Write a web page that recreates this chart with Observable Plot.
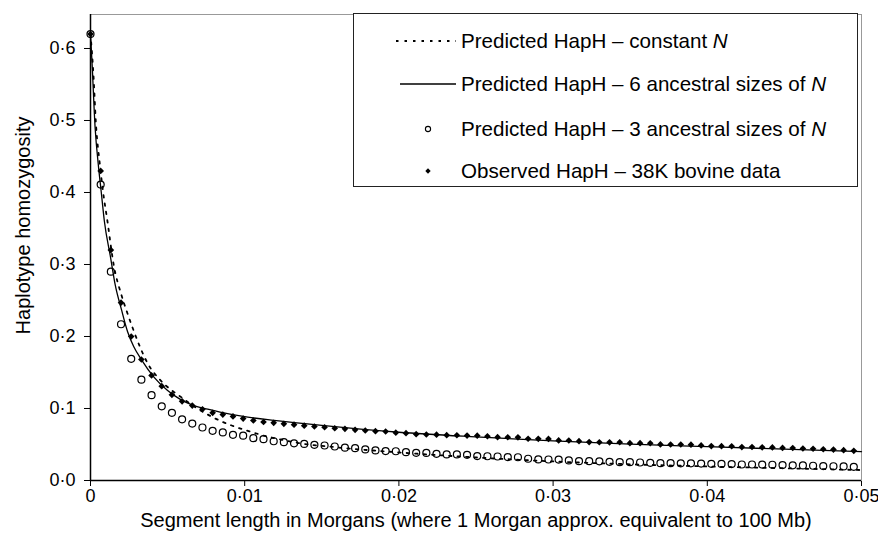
<!DOCTYPE html>
<html>
<head>
<meta charset="utf-8">
<script src="https://cdn.jsdelivr.net/npm/d3@7"></script>
<script src="https://cdn.jsdelivr.net/npm/@observablehq/plot@0.6"></script>
<style>
html, body { margin: 0; padding: 0; background: #fff; }
#wrap { position: relative; width: 878px; height: 546px; font-family: "Liberation Sans", Arial, sans-serif; color: #000; }
#legend { position: absolute; left: 353px; top: 13px; width: 505px; height: 174px; border: 1.3px solid #222; background: #fff; box-sizing: border-box; }
.row { position: absolute; left: 0; height: 26px; width: 100%; }
.row svg { position: absolute; left: 41px; top: 0; }
.row span { position: absolute; left: 107px; top: 0; line-height: 26px; font-size: 20.6px; white-space: nowrap; }
</style>
</head>
<body>
<div id="wrap"><div id="legend"></div></div>
<script>
// Segment length (Morgans) for the sampled points
const segX = [0, 0.00066, 0.00132, 0.00198, 0.00264, 0.0033, 0.00396, 0.00462, 0.00528, 0.00594,
  0.0066, 0.00726, 0.00792, 0.00858, 0.00924, 0.0099, 0.01056, 0.01122, 0.01188, 0.01254,
  0.0132, 0.01386, 0.01452, 0.01518, 0.01584, 0.0165, 0.01716, 0.01782, 0.01848, 0.01914,
  0.0198, 0.02046, 0.02112, 0.02178, 0.02244, 0.0231, 0.02376, 0.02442, 0.02508, 0.02574,
  0.0264, 0.02706, 0.02772, 0.02838, 0.02904, 0.0297, 0.03036, 0.03102, 0.03168, 0.03234,
  0.033, 0.03366, 0.03432, 0.03498, 0.03564, 0.0363, 0.03696, 0.03762, 0.03828, 0.03894,
  0.0396, 0.04026, 0.04092, 0.04158, 0.04224, 0.0429, 0.04356, 0.04422, 0.04488, 0.04554,
  0.0462, 0.04686, 0.04752, 0.04818, 0.04884, 0.0495];

// Observed HapH – 38K bovine data
const observedH = [0.62, 0.43, 0.32, 0.247, 0.200, 0.168, 0.146, 0.131, 0.119, 0.110,
  0.104, 0.099, 0.094, 0.0915, 0.089, 0.086, 0.0833, 0.0813, 0.0801, 0.0787,
  0.0776, 0.0762, 0.075, 0.074, 0.0726, 0.0718, 0.0704, 0.0694, 0.0685, 0.068,
  0.0664, 0.0657, 0.0644, 0.0639, 0.0637, 0.063, 0.0628, 0.0624, 0.0623, 0.0614,
  0.0602, 0.0601, 0.0600, 0.0580, 0.0579, 0.0577, 0.0557, 0.0555, 0.0546, 0.0534,
  0.0531, 0.0530, 0.0531, 0.0519, 0.0518, 0.0517, 0.0501, 0.0500, 0.0500, 0.0498,
  0.0487, 0.0478, 0.0477, 0.0476, 0.0464, 0.0465, 0.0461, 0.0459, 0.0453, 0.0451,
  0.0445, 0.0441, 0.0434, 0.0429, 0.0421, 0.0412];

// Predicted HapH – 3 ancestral sizes of N
const pred3H = [0.62, 0.411, 0.290, 0.217, 0.169, 0.140, 0.1185, 0.103, 0.094, 0.085,
  0.079, 0.0736, 0.069, 0.0667, 0.0634, 0.0622, 0.0588, 0.0574, 0.0545, 0.0532,
  0.0516, 0.0508, 0.0495, 0.0486, 0.0472, 0.0456, 0.0449, 0.0432, 0.0418, 0.0408,
  0.0406, 0.0393, 0.0385, 0.0383, 0.0371, 0.0362, 0.0362, 0.0356, 0.0339, 0.0337,
  0.0333, 0.0325, 0.0323, 0.0302, 0.0293, 0.0292, 0.0291, 0.0279, 0.0269, 0.0268,
  0.0266, 0.026, 0.0254, 0.0254, 0.025, 0.0246, 0.024, 0.0241, 0.0239, 0.0238,
  0.0235, 0.0231, 0.023, 0.0228, 0.0222, 0.0222, 0.0221, 0.0219, 0.0214, 0.0211,
  0.021, 0.0205, 0.0201, 0.0198, 0.0195, 0.019];

// Predicted HapH – constant N (curve)
const constX = [0, 0.0002, 0.00034, 0.0006, 0.00082, 0.0011, 0.0015, 0.002, 0.0024, 0.0028,
  0.0032, 0.0037, 0.0045, 0.0054, 0.006, 0.0067, 0.0074, 0.0084, 0.0092, 0.0099,
  0.0105, 0.0111, 0.0119, 0.0135, 0.016, 0.02, 0.025, 0.03, 0.035, 0.04, 0.045, 0.05];
const constH = [0.62, 0.56, 0.50, 0.44, 0.40, 0.36, 0.30, 0.258, 0.232, 0.208,
  0.186, 0.163, 0.140, 0.123, 0.114, 0.103, 0.094, 0.083, 0.076, 0.071,
  0.067, 0.063, 0.059, 0.052, 0.046, 0.039, 0.032, 0.0265, 0.0225, 0.0195, 0.017, 0.0145];

// Predicted HapH – 6 ancestral sizes of N (curve)
const sixX = [0, 0.0001, 0.0003, 0.0005, 0.0007, 0.0009, 0.0013, 0.0016, 0.002, 0.0024,
  0.0028, 0.0033, 0.0041, 0.005, 0.0058, 0.0067, 0.0076, 0.0084, 0.0102, 0.0119,
  0.015, 0.02, 0.025, 0.03, 0.035, 0.04, 0.045, 0.05];
const sixH = [0.62, 0.58, 0.49, 0.44, 0.40, 0.36, 0.31, 0.272, 0.238, 0.207,
  0.186, 0.168, 0.144, 0.125, 0.113, 0.104, 0.099, 0.095, 0.088, 0.0835,
  0.0765, 0.067, 0.0605, 0.055, 0.0505, 0.047, 0.0435, 0.040];

const xTicks = [0, 0.01, 0.02, 0.03, 0.04, 0.05];
const yTicks = [0, 0.1, 0.2, 0.3, 0.4, 0.5, 0.6];
const xTitle = "Segment length in Morgans (where 1 Morgan approx. equivalent to 100 Mb)";
const yTitle = "Haplotype homozygosity";
const seriesNames = ["Predicted HapH – constant ", "Predicted HapH – 6 ancestral sizes of ", "Predicted HapH – 3 ancestral sizes of ", "Observed HapH – 38K bovine data"];

const obsData = segX.map((x, i) => ({x, h: observedH[i]}));
const p3Data = segX.map((x, i) => ({x, h: pred3H[i]}));
const constData = constX.map((x, i) => ({x, h: constH[i]}));
const sixData = sixX.map((x, i) => ({x, h: sixH[i]}));

const fmtX = d => d === 0 ? "0" : d3.format(".2f")(d).replace(".", "·");
const fmtY = d => d3.format(".1f")(d).replace(".", "·");

const chart = Plot.plot({
  width: 878,
  height: 546,
  marginLeft: 90,
  marginRight: 17,
  marginTop: 14,
  marginBottom: 66,
  style: {fontFamily: "'Liberation Sans', Arial, sans-serif", fontSize: "18px", color: "#000", background: "#fff", overflow: "visible"},
  x: {domain: [0, 0.05], ticks: xTicks, tickFormat: fmtX, tickSize: 6, tickPadding: 3, label: null},
  y: {domain: [0, 0.6472], ticks: yTicks, tickFormat: fmtY, tickSize: 6, tickPadding: 9, label: null},
  marks: [
    Plot.frame({stroke: "#999"}),
    Plot.ruleX([0], {stroke: "#000", strokeWidth: 1.5}),
    Plot.ruleY([0], {stroke: "#000", strokeWidth: 1.5}),
    Plot.line(constData, {x: "x", y: "h", curve: "monotone-x", stroke: "#000", strokeWidth: 1.8, strokeDasharray: "2.5,6"}),
    Plot.line(sixData, {x: "x", y: "h", curve: "monotone-x", stroke: "#000", strokeWidth: 1.3}),
    Plot.dot(p3Data, {x: "x", y: "h", r: 3.5, stroke: "#000", strokeWidth: 1.2, fill: "none"}),
    Plot.dot(obsData, {x: "x", y: "h", symbol: "diamond2", r: 3, fill: "#000", stroke: "none"}),
    Plot.text([xTitle], {frameAnchor: "bottom", dy: 46, fontSize: 20, fill: "#000"}),
    Plot.text([yTitle], {frameAnchor: "left", textAnchor: "middle", dx: -67, dy: -22, rotate: -90, fontSize: 20, fill: "#000"})
  ]
});
const wrap = document.getElementById("wrap");
wrap.insertBefore(chart, wrap.firstChild);

// Legend
const legend = d3.select("#legend");
const rowCenters = [27, 70, 115, 157];
seriesNames.forEach((name, i) => {
  const row = legend.append("div").attr("class", "row").style("top", (rowCenters[i] - 13) + "px");
  const svg = row.append("svg").attr("width", 64).attr("height", 26);
  if (i === 0) svg.append("line").attr("x1", 1).attr("x2", 61).attr("y1", 13).attr("y2", 13)
      .attr("stroke", "#000").attr("stroke-width", 1.8).attr("stroke-dasharray", "2.5,6");
  if (i === 1) svg.append("line").attr("x1", 5).attr("x2", 61).attr("y1", 13).attr("y2", 13)
      .attr("stroke", "#000").attr("stroke-width", 1.3);
  if (i === 2) svg.append("circle").attr("cx", 33).attr("cy", 13).attr("r", 2.6)
      .attr("stroke", "#000").attr("stroke-width", 1.1).attr("fill", "none");
  if (i === 3) svg.append("path").attr("d", "M33,10.3L35.7,13L33,15.7L30.3,13Z").attr("fill", "#000");
  const span = row.append("span").text(name);
  if (i < 3) span.append("i").text("N");
});
</script>
</body>
</html>
